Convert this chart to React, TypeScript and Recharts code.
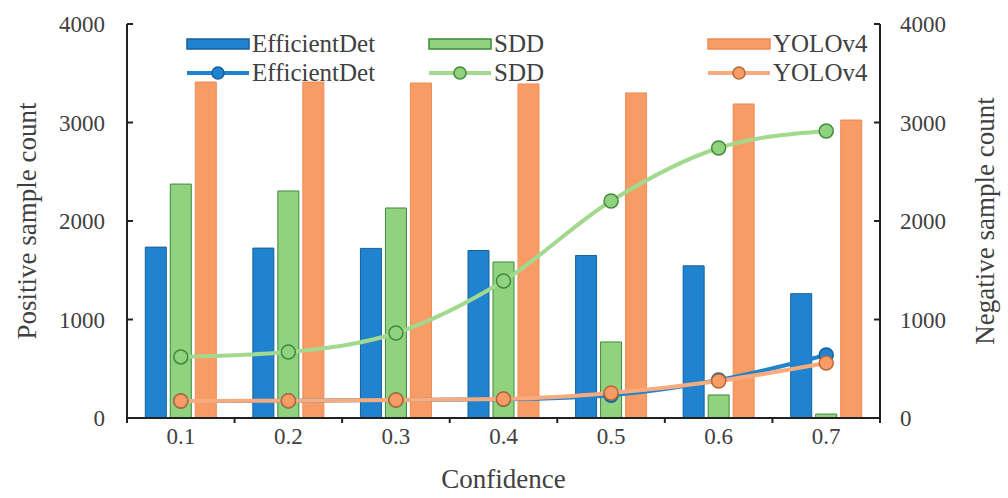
import React from "react";
import { Bar, ComposedChart, Line, XAxis, YAxis } from "recharts";

const confidence = ["0.1", "0.2", "0.3", "0.4", "0.5", "0.6", "0.7"];

// positive sample counts (bars, left axis)
const effPositive = [1735, 1725, 1722, 1700, 1650, 1545, 1262];
const sddPositive = [2375, 2305, 2132, 1584, 772, 234, 40];
const yoloPositive = [3411, 3411, 3401, 3391, 3300, 3188, 3025];

// negative sample counts (lines, right axis)
const effNegative = [172, 174, 182, 190, 232, 385, 640];
const sddNegative = [620, 670, 863, 1391, 2203, 2741, 2914];
const yoloNegative = [173, 175, 183, 193, 254, 376, 558];

const yTicks = [0, 1000, 2000, 3000, 4000];

const data = confidence.map((c, i) => ({
  c,
  effPos: effPositive[i],
  sddPos: sddPositive[i],
  yoloPos: yoloPositive[i],
  effNeg: effNegative[i],
  sddNeg: sddNegative[i],
  yoloNeg: yoloNegative[i],
}));

const FONT = "'Liberation Serif', 'DejaVu Serif', serif";
const TEXT = "#404040";
const AXIS = "#222";

const BLUE = "#1f83cf";
const BLUE_EDGE = "#17609e";
const GREEN = "#90d27e";
const GREEN_EDGE = "#3f8a3d";
const ORANGE = "#f89c66";
const ORANGE_EDGE = "#ee8a55";

const W = 1008;
const H = 498;

const BottomTick = (props: any) => {
  const { x, y, payload, index } = props;
  const half = payload?.offset ?? 53.8;
  return (
    <g>
      <line x1={x - half} x2={x - half} y1={y - 10} y2={y - 5} stroke={AXIS} strokeWidth={2} />
      {index === confidence.length - 1 ? (
        <line x1={x + half} x2={x + half} y1={y - 10} y2={y - 5} stroke={AXIS} strokeWidth={2} />
      ) : null}
      <text x={x} y={y} dy="0.71em" textAnchor="middle" fill={TEXT} fontSize={23} fontFamily={FONT}>
        {payload.value}
      </text>
    </g>
  );
};

const legendBars = [
  { name: "EfficientDet", fill: BLUE, edge: BLUE_EDGE },
  { name: "SDD", fill: GREEN, edge: GREEN_EDGE },
  { name: "YOLOv4", fill: ORANGE, edge: ORANGE_EDGE },
];
const legendLines = [
  { name: "EfficientDet", fill: BLUE, edge: BLUE_EDGE, line: BLUE },
  { name: "SDD", fill: GREEN, edge: GREEN_EDGE, line: "#a3d98f" },
  { name: "YOLOv4", fill: ORANGE, edge: "#b8683a", line: "#f9ab7d" },
];
const legendCols = [186, 428, 707];

function ChartLegend() {
  return (
    <>
      {legendBars.map((b, i) => (
        <div
          key={"b" + i}
          style={{ position: "absolute", left: legendCols[i], top: 30, display: "flex", alignItems: "center", height: 28 }}
        >
          <svg width={64} height={14}>
            <rect x={1} y={2} width={62} height={10} fill={b.fill} stroke={b.edge} strokeWidth={1.5} />
          </svg>
          <span style={{ fontFamily: FONT, fontSize: 25, color: TEXT, marginLeft: 2 }}>{b.name}</span>
        </div>
      ))}
      {legendLines.map((l, i) => (
        <div
          key={"l" + i}
          style={{ position: "absolute", left: legendCols[i], top: 59, display: "flex", alignItems: "center", height: 28 }}
        >
          <svg width={64} height={18}>
            <line x1={1} x2={63} y1={9} y2={9} stroke={l.line} strokeWidth={4} />
            <circle cx={32} cy={9} r={6} fill={l.fill} stroke={l.edge} strokeWidth={1.5} />
          </svg>
          <span style={{ fontFamily: FONT, fontSize: 25, color: TEXT, marginLeft: 2 }}>{l.name}</span>
        </div>
      ))}
    </>
  );
}

export default function App() {
  return (
    <div style={{ position: "absolute", left: 0, top: 0, width: W, height: H, background: "#fff", fontFamily: FONT }}>
      <ComposedChart
        width={W}
        height={H}
        data={data}
        margin={{ top: 24, right: 0, bottom: 0, left: 0 }}
        barCategoryGap="17%"
        barGap={4}
      >
        <XAxis
          dataKey="c"
          height={80}
          axisLine={{ stroke: AXIS, strokeWidth: 2 }}
          tickLine={false}
          tickSize={0}
          tickMargin={10}
          tick={<BottomTick />}
          interval={0}
          label={{ value: "Confidence", position: "insideBottom", offset: 10, fill: TEXT, fontSize: 27, fontFamily: FONT }}
        />
        <XAxis
          xAxisId="top"
          dataKey="c"
          orientation="top"
          height={0}
          tick={false}
          tickLine={false}
          axisLine={{ stroke: AXIS, strokeWidth: 2 }}
        />
        <YAxis
          yAxisId="left"
          width={127}
          domain={[0, 4000]}
          ticks={yTicks}
          interval={0}
          tickSize={-6}
          tickMargin={28}
          axisLine={{ stroke: AXIS, strokeWidth: 2 }}
          tickLine={{ stroke: AXIS, strokeWidth: 2 }}
          tick={{ fill: TEXT, fontSize: 23, fontFamily: FONT }}
          label={{
            value: "Positive sample count",
            angle: -90,
            position: "insideLeft",
            offset: 26,
            style: { textAnchor: "middle" },
            fill: TEXT,
            fontSize: 27,
            fontFamily: FONT,
          }}
        />
        <YAxis
          yAxisId="right"
          orientation="right"
          width={128}
          domain={[0, 4000]}
          ticks={yTicks}
          interval={0}
          tickSize={-6}
          tickMargin={26}
          axisLine={{ stroke: AXIS, strokeWidth: 2 }}
          tickLine={{ stroke: AXIS, strokeWidth: 2 }}
          tick={{ fill: TEXT, fontSize: 23, fontFamily: FONT, textAnchor: "start" }}
          label={{
            value: "Negative sample count",
            angle: -90,
            position: "insideRight",
            offset: 24,
            style: { textAnchor: "middle" },
            fill: TEXT,
            fontSize: 27,
            fontFamily: FONT,
          }}
        />
        <Bar yAxisId="left" dataKey="effPos" name="EfficientDet" fill={BLUE} stroke={BLUE_EDGE} strokeWidth={1} isAnimationActive={false} />
        <Bar yAxisId="left" dataKey="sddPos" name="SDD" fill={GREEN} stroke={GREEN_EDGE} strokeWidth={1} isAnimationActive={false} />
        <Bar yAxisId="left" dataKey="yoloPos" name="YOLOv4" fill={ORANGE} stroke={ORANGE_EDGE} strokeWidth={1} isAnimationActive={false} />
        <Line
          yAxisId="right"
          dataKey="effNeg"
          name="EfficientDet"
          type="monotone"
          stroke={BLUE}
          strokeWidth={4}
          dot={{ r: 7, fill: BLUE, stroke: BLUE_EDGE, strokeWidth: 1.5 }}
          isAnimationActive={false}
        />
        <Line
          yAxisId="right"
          dataKey="sddNeg"
          name="SDD"
          type="monotone"
          stroke="#a3d98f"
          strokeWidth={4}
          dot={{ r: 7, fill: GREEN, stroke: GREEN_EDGE, strokeWidth: 1.5 }}
          isAnimationActive={false}
        />
        <Line
          yAxisId="right"
          dataKey="yoloNeg"
          name="YOLOv4"
          type="monotone"
          stroke="#f9ab7d"
          strokeWidth={4}
          dot={{ r: 7, fill: ORANGE, stroke: "#b8683a", strokeWidth: 1.5 }}
          isAnimationActive={false}
        />
      </ComposedChart>
      <ChartLegend />
    </div>
  );
}
